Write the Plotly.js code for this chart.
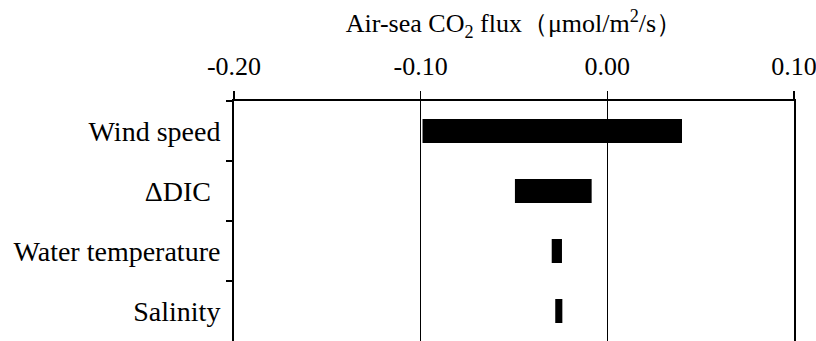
<!DOCTYPE html>
<html>
<head>
<meta charset="utf-8">
<script src="https://cdn.plot.ly/plotly-3.0.1.min.js"></script>
<style>html,body{margin:0;padding:0;background:#fff;}#chart{width:816px;height:341px;}</style>
</head>
<body>
<div id="chart"></div>
<script>
const factors = ["Wind speed", "\u0394DIC\u00a0\u200a", "Water temperature", "Salinity"];
const fluxStart = [-0.099, -0.0495, -0.0298, -0.0279];
const fluxEnd = [0.040, -0.0084, -0.0243, -0.0241];
const xTickVals = [-0.20, -0.10, 0.00, 0.10];
const xTickText = ["-0.20", "-0.10", "0.00", "0.10"];

const widths = fluxEnd.map((e, i) => e - fluxStart[i]);

const trace = {
  type: 'bar',
  orientation: 'h',
  y: factors,
  x: widths,
  base: fluxStart,
  width: 0.4,
  marker: {color: '#000', line: {width: 0}},
  hoverinfo: 'skip'
};

const fam = '"Liberation Serif", "Times New Roman", serif';
const xFont = {family: fam, size: 26, color: '#000'};
const yFont = {family: fam, size: 28, color: '#000'};

const layout = {
  width: 816, height: 341,
  margin: {l: 234, r: 22, t: 101, b: 0},
  paper_bgcolor: '#fff', plot_bgcolor: '#fff',
  font: xFont,
  showlegend: false,
  xaxis: {
    side: 'top',
    range: [-0.2, 0.1],
    tickvals: xTickVals, ticktext: xTickText,
    ticks: 'outside', ticklen: 8, tickwidth: 1.5, tickcolor: '#000',
    showline: true, linecolor: '#000', linewidth: 2,
    showgrid: true, gridcolor: '#000', gridwidth: 1.5,
    zeroline: false,
    tickfont: xFont,
    ticklabelstandoff: 6,
    ticklabeloverflow: 'allow',
    title: {text: 'Air-sea CO<sub>2</sub> flux\uff08\u03bcmol/m<sup>2</sup>/s\uff09', font: xFont, standoff: 11}
  },
  yaxis: {
    type: 'category',
    categoryorder: 'array', categoryarray: factors,
    autorange: 'reversed',
    ticks: 'outside', tickson: 'boundaries', ticklen: 6, tickwidth: 1.5, tickcolor: '#000',
    showline: true, mirror: true, linecolor: '#000', linewidth: 2,
    showgrid: false, zeroline: false,
    tickfont: yFont,
    ticklabelstandoff: 6
  },
  bargap: 0.6
};

Plotly.newPlot('chart', [trace], layout, {displayModeBar: false, staticPlot: true});
</script>
</body>
</html>
